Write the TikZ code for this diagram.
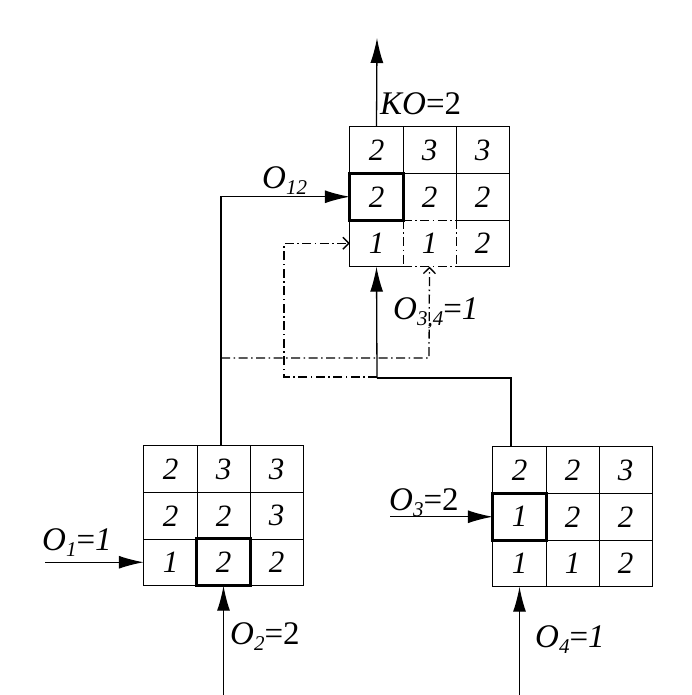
\documentclass[tikz,border=0pt]{standalone}
\usepackage{fontspec}
\setmainfont{Liberation Serif}
\usetikzlibrary{arrows.meta}
\newcommand\olab[2]{\textit{#1}\raisebox{-0.4ex}{\fontsize{21}{21}\selectfont\textit{#2}}}
\begin{document}
\begin{tikzpicture}[x=1pt,y=-1pt,
  cell/.style={minimum width=53pt,minimum height=46.5pt,inner sep=0pt,font=\fontsize{31}{31}\selectfont\itshape},
  gl/.style={line width=1.3pt},
  thk/.style={line width=2.8pt},
  dd/.style={line width=1.3pt,dash pattern=on 9pt off 3.5pt on 1.5pt off 3.5pt},
  solarr/.style={line width=1.3pt,-{Latex[length=25pt,width=13pt]}},
  ddarr/.style={dd,-{Straight Barb[length=6pt,width=12pt,line width=1.3pt]}},
  lab/.style={font=\fontsize{33}{33}\selectfont,anchor=west,inner sep=0pt}]
\useasboundingbox (0,0) rectangle (691,695);
\fill[white] (0,0) rectangle (691,695);
% ---- grids ----
\foreach \g/\xo/\yo/\vals in {t/350/127/{2,3,3,2,2,2,1,1,2},bl/144/446/{2,3,3,2,2,3,1,2,2},br/493/447/{2,2,3,1,2,2,1,1,2}}{
  \foreach \v [count=\i from 0] in \vals {
    \pgfmathtruncatemacro\r{int(\i/3)+1}
    \pgfmathtruncatemacro\c{mod(\i,3)+1}
    \node[cell] (\g-\r-\c) at ({\xo+(\c-0.5)*53},{\yo+(\r-0.5)*46.5}) {\v};
  }
}
% bottom-left grid lines
\draw[gl] (bl-1-1.north west) rectangle (bl-3-3.south east);
\draw[gl] (bl-1-1.south west) -- (bl-1-3.south east);
\draw[gl] (bl-2-1.south west) -- (bl-2-3.south east);
\draw[gl] (bl-1-1.north east) -- (bl-3-1.south east);
\draw[gl] (bl-1-2.north east) -- (bl-3-2.south east);
\draw[thk] (bl-3-2.north west) rectangle (bl-3-2.south east);
% bottom-right grid lines
\draw[gl] (br-1-1.north west) rectangle (br-3-3.south east);
\draw[gl] (br-1-1.south west) -- (br-1-3.south east);
\draw[gl] (br-2-1.south west) -- (br-2-3.south east);
\draw[gl] (br-1-1.north east) -- (br-3-1.south east);
\draw[gl] (br-1-2.north east) -- (br-3-2.south east);
\draw[thk] (br-2-1.north west) rectangle (br-2-1.south east);
% top grid lines
\draw[gl] (t-3-2.south west) -- (t-3-1.south west) -- (t-1-1.north west) -- (t-1-3.north east) -- (t-3-3.south east) -- (t-3-2.south east);
\draw[dd] (t-3-2.south west) -- (t-3-2.south east);
\draw[gl] (t-1-1.south west) -- (t-1-3.south east);
\draw[dd] (t-2-2.south west) -- (t-2-2.south east);
\draw[gl] (t-2-3.south west) -- (t-2-3.south east);
\draw[gl] (t-1-1.north east) -- (t-2-1.south east);
\draw[gl] (t-1-2.north east) -- (t-2-2.south east);
\draw[dd] (t-3-1.north east) -- (t-3-1.south east);
\draw[dd] (t-3-2.north east) -- (t-3-2.south east);
\draw[thk] (t-2-1.north west) rectangle (t-2-1.south east);
% ---- coordinates ----
\coordinate (out) at (377,38);
\coordinate (o1s) at (45,560);
\coordinate (o2s) at (223,695);
\coordinate (o3s) at (390,519);
\coordinate (o4s) at (522,695);
\coordinate (bltop) at (221,446);
\coordinate (brtop) at (511,447);
\coordinate (jn) at (377,378);
\coordinate (dd1) at (377,377);
\coordinate (dd1c) at (284,377);
\coordinate (dd2) at (221,358);
\coordinate (dd2c) at (429,358);
% ---- connectors ----
\draw[solarr] (t-1-1.north) -- (out);
\draw[solarr] (bltop) |- (t-2-1.west);
\draw[gl] (brtop) |- (jn);
\draw[solarr] (jn) -- (t-3-1.south);
\draw[ddarr] (dd1) -- (dd1c) |- (t-3-1.west);
\draw[ddarr] (dd2) -- (dd2c) -- (t-3-2.south);
\draw[solarr] (bl-3-1.west -| o1s) -- (bl-3-1.west);
\draw[solarr] (bl-3-2.south |- o2s) -- (bl-3-2.south);
\draw[solarr] (br-2-1.west -| o3s) -- (br-2-1.west);
\draw[solarr] (br-3-1.south |- o4s) -- (br-3-1.south);
% ---- labels ----
\node[lab] (lko) at (380,104) {\textit{KO}=2};
\node[lab] (l12) at (262,181) {\olab{O}{12}};
\node[lab] (l34) at (393,313) {\olab{O}{3,4}=\textit{1}};
\node[lab] (l1) at (42,543) {\olab{O}{1}=\textit{1}};
\node[lab] (l2) at (230,637) {\olab{O}{2}=2};
\node[lab] (l3) at (389,503) {\olab{O}{3}=2};
\node[lab] (l4) at (535,640) {\olab{O}{4}=\textit{1}};
\end{tikzpicture}
\end{document}
